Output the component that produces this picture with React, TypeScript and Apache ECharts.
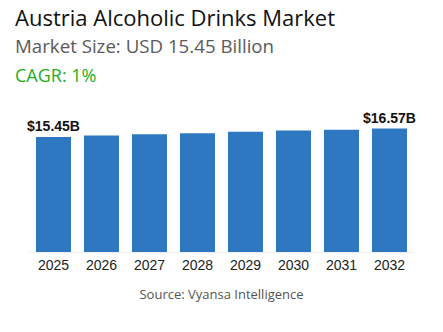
import React, { useEffect, useRef } from "react";
import * as echarts from "echarts";

const years = ["2025", "2026", "2027", "2028", "2029", "2030", "2031", "2032"];
const values = [15.45, 15.65, 15.82, 15.93, 16.14, 16.32, 16.4, 16.57];
const labelled = [0, 7];

const titleText = "Austria Alcoholic Drinks Market";
const subtitleText = "Market Size: USD 15.45 Billion";
const cagrText = "CAGR: 1%";
const sourceText = "Source: Vyansa Intelligence";

export default function App() {
  const ref = useRef<HTMLDivElement>(null);
  useEffect(() => {
    if (!ref.current) return;
    const chart = echarts.init(ref.current, null, { renderer: "svg" });
    chart.setOption({
      animation: false,
      backgroundColor: "#ffffff",
      grid: { left: 29.5, right: 29.5, top: 103, bottom: 80, containLabel: false },
      xAxis: {
        type: "category",
        data: years,
        axisLine: { show: true, lineStyle: { color: "#eeeeee", width: 1 } },
        axisTick: { show: false },
        axisLabel: {
          color: "#222222",
          fontSize: 14,
          fontFamily: "Liberation Sans, Arial, sans-serif",
          margin: 6,
        },
      },
      yAxis: {
        type: "value",
        min: 0,
        max: 20,
        show: false,
        splitLine: { show: false },
      },
      series: [
        {
          type: "bar",
          barWidth: 35,
          data: values.map((v, i) => ({
            value: v,
            label: {
              show: labelled.includes(i),
              position: "top",
              formatter: "${c}B",
              color: "#111111",
              fontSize: 14,
              fontWeight: "bold",
              fontFamily: "Liberation Sans, Arial, sans-serif",
              distance: 4,
            },
          })),
          itemStyle: { color: "#2d78c1" },
        },
      ],
      graphic: [
        {
          type: "text",
          left: 15,
          top: 6,
          style: {
            text: titleText,
            fontSize: 22,
            fontFamily: "Open Sans, sans-serif",
            fill: "#111111",
          },
        },
        {
          type: "text",
          left: 15,
          top: 36,
          style: {
            text: subtitleText,
            fontSize: 18.7,
            fontFamily: "Open Sans, sans-serif",
            fill: "#5a5a5a",
          },
        },
        {
          type: "text",
          left: 15,
          top: 65.5,
          style: {
            text: cagrText,
            fontSize: 18,
            fontFamily: "Open Sans, sans-serif",
            fill: "#1fae1f",
          },
        },
        {
          type: "text",
          left: "center",
          top: 287,
          style: {
            text: sourceText,
            fontSize: 13,
            fontFamily: "Open Sans, sans-serif",
            fill: "#555555",
          },
        },
      ],
    });
    return () => chart.dispose();
  }, []);
  return (
    <div
      ref={ref}
      style={{ position: "fixed", left: 0, top: 0, width: 443, height: 332 }}
    />
  );
}
